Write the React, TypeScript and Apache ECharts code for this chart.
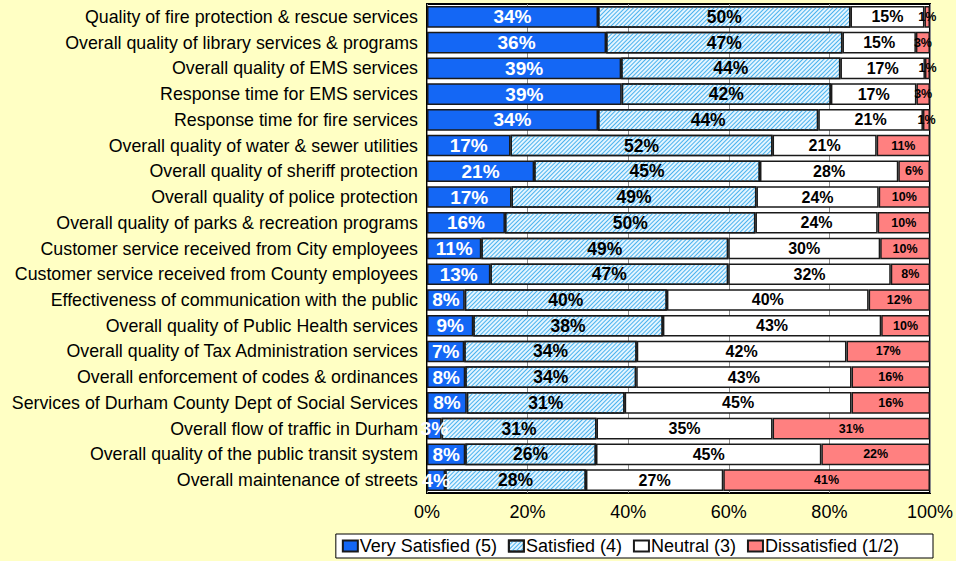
import React, { useEffect, useRef } from "react";
import * as echarts from "echarts";

const categories = [
  "Quality of fire protection & rescue services",
  "Overall quality of library services & programs",
  "Overall quality of EMS services",
  "Response time for EMS services",
  "Response time for fire services",
  "Overall quality of water & sewer utilities",
  "Overall quality of sheriff protection",
  "Overall quality of police protection",
  "Overall quality of parks & recreation programs",
  "Customer service received from City employees",
  "Customer service received from County employees",
  "Effectiveness of communication with the public",
  "Overall quality of Public Health services",
  "Overall quality of Tax Administration services",
  "Overall enforcement of codes & ordinances",
  "Services of Durham County Dept of Social Services",
  "Overall flow of traffic in Durham",
  "Overall quality of the public transit system",
  "Overall maintenance of streets",
];

const verySatisfied = [34.0, 35.6, 38.6, 38.7, 34.0, 16.6, 21.3, 16.8, 15.5, 10.8, 12.6, 7.5, 9.2, 7.4, 7.6, 7.9, 2.9, 7.6, 3.6];
const satisfied = [50.2, 47.0, 43.6, 41.6, 43.8, 52.1, 44.9, 48.7, 49.8, 49.1, 47.3, 40.2, 37.7, 34.3, 34.0, 31.4, 30.8, 26.0, 28.0];
const neutral = [14.7, 14.6, 16.8, 17.0, 20.8, 20.7, 27.5, 24.3, 24.3, 30.2, 32.3, 40.1, 43.4, 41.7, 42.8, 45.1, 35.0, 44.8, 27.3];
const dissatisfied = [1.1, 2.8, 1.0, 2.7, 1.4, 10.6, 6.3, 10.2, 10.4, 9.9, 7.8, 12.2, 9.7, 16.6, 15.6, 15.6, 31.3, 21.6, 41.1];

const xTicks = [0, 20, 40, 60, 80, 100];

const FONT = "'Liberation Sans', Arial, Helvetica, sans-serif";

export default function App() {
  const ref = useRef<HTMLDivElement>(null);
  useEffect(() => {
    if (!ref.current) return;
    const chart = echarts.init(ref.current, undefined, { renderer: "svg" });
    const fmt = (p: any) => Math.round(p.value) + "%";
    const common = {
      type: "bar",
      stack: "total",
      barCategoryGap: "16%",
    };
    chart.setOption({
      animation: false,
      backgroundColor: "#FFFFC4",
      textStyle: { fontFamily: FONT },
      grid: {
        left: 427,
        right: 24,
        top: 4,
        bottom: 68,
        show: true,
        backgroundColor: "#ffffff",
        borderColor: "#000000",
        borderWidth: 2,
      },
      xAxis: {
        type: "value",
        min: xTicks[0],
        max: xTicks[xTicks.length - 1],
        interval: 20,
        axisLabel: {
          formatter: "{value}%",
          color: "#000",
          fontSize: 18,
          fontFamily: FONT,
          margin: 10,
        },
        axisLine: { show: false },
        axisTick: { show: false },
        splitLine: { show: true, lineStyle: { color: "#8c8c8c", width: 1 } },
      },
      yAxis: {
        type: "category",
        data: categories,
        inverse: true,
        axisLine: { show: false },
        axisTick: { show: false },
        axisLabel: { color: "#000", fontSize: 17.8, fontFamily: FONT, margin: 9 },
      },
      legend: {
        right: 23,
        bottom: 3,
        backgroundColor: "#ffffff",
        borderColor: "#000000",
        borderWidth: 1,
        borderRadius: 0,
        padding: [3, 34, 3, 6],
        itemGap: 11,
        itemWidth: 15,
        itemHeight: 11,
        icon: "rect",
        textStyle: { color: "#000", fontSize: 18, fontFamily: FONT, padding: [0, 0, 0, -3] },
        data: ["Very Satisfied (5)", "Satisfied (4)", "Neutral (3)", "Dissatisfied (1/2)"],
      },
      series: [
        {
          ...common,
          name: "Very Satisfied (5)",
          data: verySatisfied,
          itemStyle: { color: "#1467F5", borderColor: "#1a1a1a", borderWidth: 1.5 },
          label: {
            show: true,
            position: "inside",
            formatter: fmt,
            color: "#ffffff",
            fontWeight: "bold",
            fontSize: 19,
            fontFamily: FONT,
          },
        },
        {
          ...common,
          name: "Satisfied (4)",
          data: satisfied,
          itemStyle: {
            color: "#e4f5ff",
            borderColor: "#1a1a1a",
            borderWidth: 1.5,
            decal: {
              symbol: "rect",
              symbolSize: 1,
              color: "#4ab2ee",
              dashArrayX: [[1, 0]],
              dashArrayY: [1, 2],
              rotation: -Math.PI / 4,
            },
          },
          label: {
            show: true,
            position: "inside",
            formatter: fmt,
            color: "#000000",
            fontWeight: "bold",
            fontSize: 17.5,
            fontFamily: FONT,
          },
        },
        {
          ...common,
          name: "Neutral (3)",
          data: neutral,
          itemStyle: { color: "#ffffff", borderColor: "#1a1a1a", borderWidth: 1.5 },
          label: {
            show: true,
            position: "inside",
            formatter: fmt,
            color: "#000000",
            fontWeight: "bold",
            fontSize: 16,
            fontFamily: FONT,
          },
        },
        {
          ...common,
          name: "Dissatisfied (1/2)",
          data: dissatisfied,
          itemStyle: { color: "#FF8080", borderColor: "#1a1a1a", borderWidth: 1.5 },
          label: {
            show: true,
            position: "inside",
            formatter: fmt,
            color: "#000000",
            fontWeight: "bold",
            fontSize: 12.5,
            fontFamily: FONT,
          },
        },
      ],
    });
    return () => chart.dispose();
  }, []);
  return (
    <div
      ref={ref}
      style={{ position: "fixed", left: 0, top: 0, width: 956, height: 561 }}
    />
  );
}
